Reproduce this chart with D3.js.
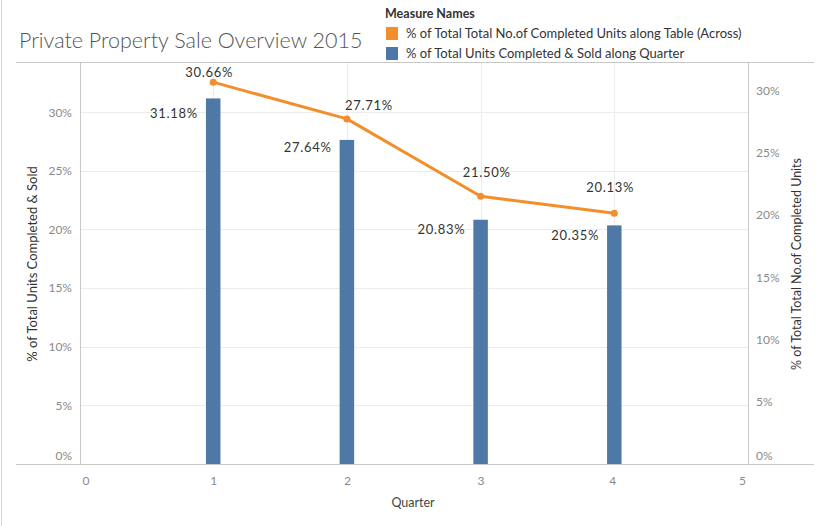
<!DOCTYPE html>
<html>
<head>
<meta charset="utf-8">
<script src="https://cdn.jsdelivr.net/npm/d3@7"></script>
<style>
  body { margin: 0; background: #fff; }
  svg { display: block; font-family: Lato, "Open Sans", sans-serif; }
</style>
</head>
<body>
<svg id="chart" width="824" height="526"></svg>
<script>
// ---- data ----
const quarters = [1, 2, 3, 4];
const soldShare = [31.18, 27.64, 20.83, 20.35];        // bars, left axis
const completedShare = [30.66, 27.71, 21.50, 20.13];   // line, right axis
const xTicks = [0, 1, 2, 3, 4, 5];
const leftTicks = [0, 5, 10, 15, 20, 25, 30];
const rightTicks = [0, 5, 10, 15, 20, 25, 30];
const seriesNames = [
  "% of Total Total No.of Completed Units along Table (Across)",
  "% of Total Units Completed & Sold along Quarter"
];
const seriesColors = ["#f28e2b", "#4e79a7"];

// ---- layout ----
const svg = d3.select("#chart");
const L = 80, R = 748, T = 63, B = 464;

const x = d3.scaleLinear().domain([0, 5]).range([79.5, 748]);
const yL = d3.scaleLinear().domain([0, 34.2]).range([B, T]);
const yR = d3.scaleLinear().domain([0, 32.2]).range([B, T]);

const grid = "#ececec", axisCol = "#c8c8c8", tickText = "#8a8a8a";

// frame lines
svg.append("line").attr("x1", 1.5).attr("x2", 1.5).attr("y1", 0).attr("y2", 526).attr("stroke", "#d4d4d4");
svg.append("line").attr("x1", 16).attr("x2", 814).attr("y1", T - 0.5).attr("y2", T - 0.5).attr("stroke", axisCol);

// gridlines
svg.append("g").selectAll("line").data(leftTicks.filter(d => d > 0)).join("line")
  .attr("x1", L).attr("x2", R)
  .attr("y1", d => Math.round(yL(d)) + 0.5).attr("y2", d => Math.round(yL(d)) + 0.5)
  .attr("stroke", grid);
svg.append("g").selectAll("line").data(xTicks.filter(d => d > 0 && d < 5)).join("line")
  .attr("x1", d => Math.round(x(d)) + 0.5).attr("x2", d => Math.round(x(d)) + 0.5)
  .attr("y1", T).attr("y2", B)
  .attr("stroke", grid);

// axes lines
svg.append("line").attr("x1", L + 0.5).attr("x2", L + 0.5).attr("y1", T).attr("y2", B).attr("stroke", axisCol);
svg.append("line").attr("x1", R + 0.5).attr("x2", R + 0.5).attr("y1", T).attr("y2", B).attr("stroke", axisCol);
svg.append("line").attr("x1", 16).attr("x2", 814).attr("y1", B + 0.5).attr("y2", B + 0.5).attr("stroke", axisCol);

// left axis
const pct = d => d + "%";
const leftAxis = d3.axisLeft(yL).tickValues(leftTicks).tickFormat(pct).tickSize(0).tickPadding(8);
const gl = svg.append("g").attr("transform", `translate(${L},0)`).call(leftAxis);
gl.select(".domain").remove();
gl.selectAll("text").attr("fill", tickText).style("font-size", "12px").style("font-family", "Lato, sans-serif")
  .attr("dy", d => d === 0 ? "-0.4em" : "0.32em");

// right axis
const rightAxis = d3.axisRight(yR).tickValues(rightTicks).tickFormat(pct).tickSize(0).tickPadding(8);
const gr = svg.append("g").attr("transform", `translate(${R},0)`).call(rightAxis);
gr.select(".domain").remove();
gr.selectAll("text").attr("fill", tickText).style("font-size", "12px").style("font-family", "Lato, sans-serif")
  .attr("dy", d => d === 0 ? "-0.4em" : "0.32em");

// bottom axis
const xAxis = d3.axisBottom(x).tickValues(xTicks).tickFormat(d3.format("d")).tickSize(0).tickPadding(12);
const gx = svg.append("g").attr("transform", `translate(0,${B})`).call(xAxis);
gx.select(".domain").remove();
gx.selectAll("text").attr("fill", tickText).style("font-size", "12px").style("font-family", "Lato, sans-serif")
  .attr("dx", d => d === 0 ? 6 : d === 5 ? -6 : d === 4 ? -2 : 0);

// bars
const barW = 14.5;
svg.append("g").selectAll("rect").data(quarters).join("rect")
  .attr("x", (d) => x(d) - barW / 2)
  .attr("width", barW)
  .attr("y", (d, i) => yL(soldShare[i]))
  .attr("height", (d, i) => B - yL(soldShare[i]))
  .attr("fill", seriesColors[1]);

// bar labels (nudged as in the reference)
const barNudge = [15, 8, 10, 10];
svg.append("g").selectAll("text").data(quarters).join("text")
  .attr("x", d => x(d) - barW / 2 - 8)
  .attr("y", (d, i) => yL(soldShare[i]) + barNudge[i])
  .attr("dy", "0.35em")
  .attr("text-anchor", "end")
  .attr("fill", "#333")
  .style("font-size", "13px")
  .style("letter-spacing", "0.7px")
  .text((d, i) => soldShare[i].toFixed(2) + "%");

// line
const lineGen = d3.line().x(d => x(d[0])).y(d => yR(d[1]));
const linePts = quarters.map((q, i) => [q, completedShare[i]]);
svg.append("path").datum(linePts).attr("d", lineGen)
  .attr("fill", "none").attr("stroke", seriesColors[0]).attr("stroke-width", 3)
  .attr("stroke-linejoin", "round");
svg.append("g").selectAll("circle").data(linePts).join("circle")
  .attr("cx", d => x(d[0])).attr("cy", d => yR(d[1])).attr("r", 3.5)
  .attr("fill", seriesColors[0]);

// line labels (nudged as in the reference)
const nudges = [[-4, -10], [22, -13], [6, -24], [-4, -26]];
svg.append("g").selectAll("text").data(linePts).join("text")
  .attr("x", (d, i) => x(d[0]) + nudges[i][0])
  .attr("y", (d, i) => yR(d[1]) + nudges[i][1])
  .attr("dy", "0.35em")
  .attr("text-anchor", "middle")
  .attr("fill", "#333")
  .style("font-size", "13px")
  .style("letter-spacing", "0.7px")
  .text(d => d[1].toFixed(2) + "%");

// axis titles
svg.append("text").attr("transform", "translate(37,264) rotate(-90)")
  .attr("text-anchor", "middle").attr("fill", "#333").style("font-size", "13px")
  .text("% of Total Units Completed & Sold");
svg.append("text").attr("transform", "translate(801,264) rotate(-90)")
  .attr("text-anchor", "middle").attr("fill", "#333").style("font-size", "12.5px")
  .text("% of Total Total No.of Completed Units");
svg.append("text").attr("x", 413).attr("y", 507)
  .attr("text-anchor", "middle").attr("fill", "#444").style("font-size", "12.5px")
  .text("Quarter");

// title
svg.append("text").attr("x", 19).attr("y", 48)
  .attr("fill", "#555").style("font-size", "21.5px").style("font-weight", "300")
  .text("Private Property Sale Overview 2015");

// legend
svg.append("text").attr("x", 385).attr("y", 18)
  .attr("fill", "#333").style("font-size", "12.5px").style("font-weight", "bold")
  .text("Measure Names");
const lg = svg.append("g").selectAll("g").data(seriesNames).join("g")
  .attr("transform", (d, i) => `translate(386,${27 + i * 20})`);
lg.append("rect").attr("width", 12).attr("height", 13).attr("fill", (d, i) => seriesColors[i]);
lg.append("text").attr("x", 20).attr("y", 7).attr("dy", "0.32em")
  .attr("fill", "#333").style("font-size", "13px").text(d => d);
</script>
</body>
</html>
